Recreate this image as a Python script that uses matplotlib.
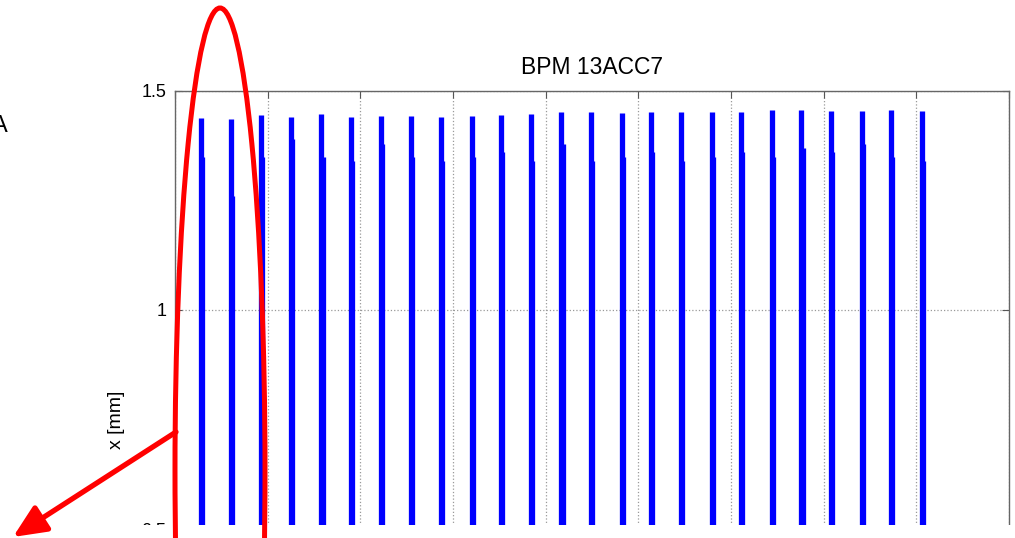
import matplotlib
matplotlib.use('Agg')
import matplotlib.pyplot as plt
from matplotlib.patches import Ellipse, Rectangle

plt.rcParams['font.family'] = ['Liberation Sans', 'DejaVu Sans']

# spike positions (x) and peak values x [mm]
spike_x = [0.28, 0.60, 0.93, 1.25, 1.58, 1.90, 2.22, 2.55, 2.87, 3.20,
           3.52, 3.84, 4.17, 4.49, 4.82, 5.14, 5.46, 5.79, 6.11, 6.44,
           6.76, 7.08, 7.41, 7.73, 8.06]
peak = [1.438, 1.436, 1.445, 1.441, 1.447, 1.441, 1.443, 1.443, 1.441, 1.443,
        1.445, 1.447, 1.452, 1.452, 1.450, 1.452, 1.452, 1.452, 1.452, 1.457,
        1.457, 1.454, 1.454, 1.457, 1.454]
shoulder = [1.35, 1.26, 1.35, 1.39, 1.35, 1.34, 1.38, 1.35, 1.34, 1.35,
            1.36, 1.34, 1.38, 1.34, 1.35, 1.36, 1.34, 1.35, 1.36, 1.35,
            1.37, 1.36, 1.38, 1.35, 1.34]
yticks = [0, 0.5, 1, 1.5]
ytick_labels = ['0', '0.5', '1', '1.5']

W, H = 1015, 538
fig = plt.figure(figsize=(W / 100, H / 100), dpi=100)
# axes runs below the bottom of the picture (cropped screenshot)
ax = fig.add_axes([175 / W, 1 - 748 / H, 834 / W, 657 / H])

ax.vlines(spike_x, 0, peak, color='#0000ff', lw=3.8)
ax.vlines([v + 0.012 for v in spike_x], 0, shoulder, color='#0000ff', lw=3.8)

ax.set_xlim(0, 9)
ax.set_ylim(0, 1.5)
ax.set_xticks(range(10))
ax.set_yticks(yticks)
ax.set_yticklabels(ytick_labels)
ax.tick_params(direction='in', length=5, top=True, right=True, labelsize=13,
               color='#555555', pad=6)
ax.grid(True, linestyle=':', color='#999999', lw=0.9)
for s in ax.spines.values():
    s.set_color('#666666')
    s.set_linewidth(1.0)
ax.set_title('BPM 13ACC7', fontsize=16.5, pad=12)
ax.set_ylabel('x [mm]', fontsize=14)
ax.yaxis.set_label_coords(-0.06, 0.5)

# white strip at the cropped bottom
fig.add_artist(Rectangle((25 / W, 0), 1, 13 / H, transform=fig.transFigure,
                         facecolor='white', edgecolor='none', zorder=5))

# red annotations
fig.add_artist(Ellipse((220 / W, 1 - 470 / H), 90 / W, 924 / H,
                       transform=fig.transFigure, fill=False,
                       edgecolor='#ff0000', lw=3.6, zorder=6))
fig.add_artist(plt.Annotation('', xy=(13 / W, 1 - 537 / H), xytext=(176 / W, 1 - 432 / H),
                              xycoords='figure fraction', textcoords='figure fraction',
                              arrowprops=dict(arrowstyle='-|>,head_length=2.0,head_width=0.9',
                                              color='#ff0000', lw=3.8, shrinkA=0, shrinkB=0),
                              zorder=7))
fig.text(0, 1 - 126 / H, 'A', ha='center', va='center', fontsize=17)

fig.savefig('out.png', dpi=100)
